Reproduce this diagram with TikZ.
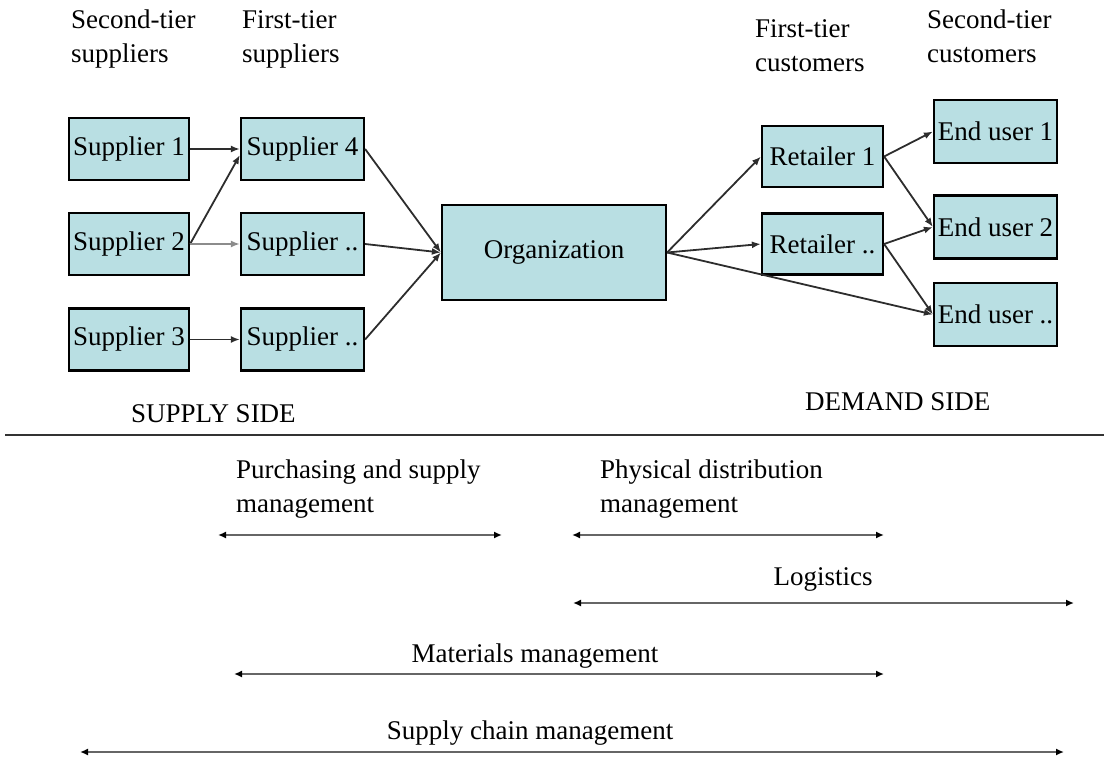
\documentclass[tikz,border=0pt]{standalone}
\usepackage{fontspec}
\setmainfont{Liberation Serif}
\usetikzlibrary{arrows.meta}

\definecolor{boxfill}{RGB}{185,223,227}
\definecolor{linegray}{RGB}{45,45,45}

\tikzset{
  party/.style={draw=black, line width=2.2pt, fill=boxfill, inner sep=0pt,
    font=\fontsize{27}{33}\selectfont},
  flow/.style={draw=linegray, line width=1.8pt, -{Latex[length=9pt,width=7pt]}},
  span/.style={draw=black!60, line width=2.4pt,
    {Latex[length=8pt,width=7pt,color=black]}-{Latex[length=8pt,width=7pt,color=black]}},
  tierlabel/.style={anchor=base west, align=left, inner sep=0pt,
    font=\fontsize{27}{34}\selectfont},
  scopelabel/.style={anchor=base, inner sep=0pt, font=\fontsize{27}{33}\selectfont}
}

\begin{document}
\begin{tikzpicture}[x=1pt,y=-1pt]
	\useasboundingbox (0,0) rectangle (1104,757);
	% tier headings (placed on the baseline of their second line)
	\node[tierlabel] (h1) at (71,63) {Second-tier\\suppliers};
	\node[tierlabel] (h2) at (242,63) {First-tier\\suppliers};
	\node[tierlabel] (h3) at (755,72) {First-tier\\customers};
	\node[tierlabel] (h4) at (927,63) {Second-tier\\customers};
	% supply side
	\node[party, minimum width=120pt, minimum height=62pt] (s1) at (129,149) {Supplier 1};
	\node[party, minimum width=120pt, minimum height=62pt] (s2) at (129,244) {Supplier 2};
	\node[party, minimum width=120pt, minimum height=62pt] (s3) at (129,339.5) {Supplier 3};
	\node[party, minimum width=123pt, minimum height=62pt] (s4) at (302.5,149) {Supplier 4};
	\node[party, minimum width=123pt, minimum height=62pt] (s5) at (302.5,244) {Supplier ..};
	\node[party, minimum width=123pt, minimum height=62pt] (s6) at (302.5,339.5) {Supplier ..};
	% focal firm
	\node[party, minimum width=224pt, minimum height=95pt] (org) at (554,252.5) {Organization};
	% demand side
	\node[party, minimum width=121pt, minimum height=61pt] (r1) at (822.5,156.5) {Retailer 1};
	\node[party, minimum width=121pt, minimum height=61pt] (r2) at (822.5,244) {Retailer ..};
	\node[party, minimum width=123pt, minimum height=63pt] (e1) at (995.5,131.5) {End user 1};
	\node[party, minimum width=123pt, minimum height=63pt] (e2) at (995.5,227) {End user 2};
	\node[party, minimum width=123pt, minimum height=63pt] (e3) at (995.5,314.5) {End user ..};
	% flows
	\draw[flow] (s1.east) -- (s4.west);
	\draw[flow] (s2.east) -- ([yshift=-6pt]s4.west);
	\draw[flow,draw=black!45] (s2.east) -- (s5.west);
	\draw[flow] (s3.east) -- (s6.west);
	\draw[flow] (s4.east) -- (org.west);
	\draw[flow] (s5.east) -- (org.west);
	\draw[flow] (s6.east) -- (org.west);
	\draw[flow] (org.east) -- (r1.west);
	\draw[flow] (org.east) -- (r2.west);
	\draw[flow] (org.east) -- (e3.west);
	\draw[flow] (r1.east) -- (e1.west);
	\draw[flow] (r1.east) -- (e2.west);
	\draw[flow] (r2.east) -- (e2.west);
	\draw[flow] (r2.east) -- (e3.west);
	% sides
	\node[tierlabel] (sup) at (131,422) {SUPPLY SIDE};
	\node[tierlabel] (dem) at (805,410) {DEMAND SIDE};
	\coordinate (cutl) at (5,435);
	\coordinate (cutr) at (1104,435);
	\draw[line width=2.2pt, black!80] (cutl) -- (cutr);
	% management scopes
	\node[tierlabel] (psm) at (236,512) {Purchasing and supply\\management};
	\node[tierlabel] (pdm) at (600,512) {Physical distribution\\management};
	\coordinate (psmL) at (218,535);  \coordinate (psmR) at (502,535);
	\coordinate (pdmL) at (572,535);  \coordinate (pdmR) at (884,535);
	\draw[span] (psmL) -- (psmR);
	\draw[span] (pdmL) -- (pdmR);
	\node[scopelabel] (log) at (823,585) {Logistics};
	\coordinate (logL) at (573,603);  \coordinate (logR) at (1074,603);
	\draw[span] (logL) -- (logR);
	\node[scopelabel] (mat) at (535,662) {Materials management};
	\coordinate (matL) at (234,674);  \coordinate (matR) at (884,674);
	\draw[span] (matL) -- (matR);
	\node[scopelabel] (scm) at (530,739) {Supply chain management};
	\coordinate (scmL) at (80,752);  \coordinate (scmR) at (1064,752);
	\draw[span] (scmL) -- (scmR);
\end{tikzpicture}
\end{document}
